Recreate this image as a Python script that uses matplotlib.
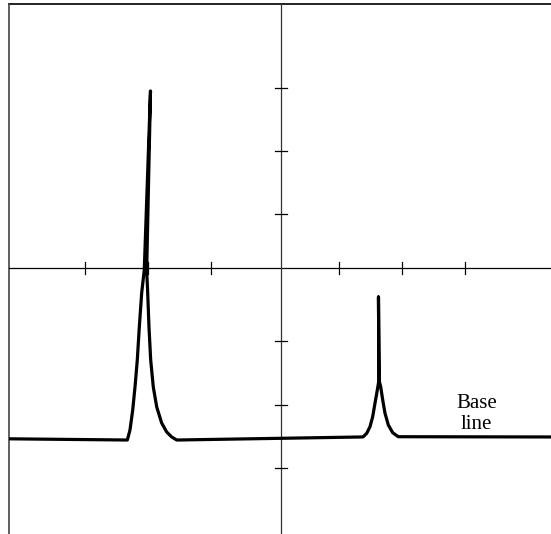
import numpy as np
import matplotlib
matplotlib.use('Agg')
import matplotlib.pyplot as plt

# units: one tick step, origin at the crossing of the two axes
x_ticks = [-3.09, -2.09, -1.10, 0.91, 1.91, 2.90]
y_ticks = [2.83, 1.84, 0.85, -1.15, -2.16, -3.15]

# baseline trace with two peaks
trace_x = [-4.283, -2.420, -2.378, -2.335, -2.299, -2.263, -2.231, -2.194, -2.153, -2.055,
           -2.115, -2.099, -2.079, -2.052, -2.011, -1.957, -1.879, -1.800, -1.721, -1.642,
           1.276, 1.296, 1.350, 1.402, 1.444, 1.480, 1.517, 1.543, 1.535,
           1.543, 1.570, 1.602, 1.638, 1.690, 1.759, 1.847, 4.252]
trace_y = [-2.690, -2.709, -2.551, -2.236, -1.874, -1.449, -0.929, -0.394, -0.031, 2.787,
           -0.031, -0.394, -0.929, -1.449, -1.874, -2.189, -2.441, -2.583, -2.661, -2.709,
           -2.661, -2.657, -2.603, -2.499, -2.342, -2.131, -1.921, -1.764, -0.457,
           -1.764, -1.869, -2.079, -2.288, -2.472, -2.594, -2.657, -2.661]

label_text = 'Base\nline'
label_pos = (3.08, -2.30)

xmin, xmax = -4.425, 4.252
ymin, ymax = -4.189, 4.220
frame_left, frame_top = -4.283, 4.157

fig = plt.figure(figsize=(5.51, 5.34), dpi=100)
ax = fig.add_axes([0, 0, 1, 1])
ax.set_xlim(xmin, xmax)
ax.set_ylim(ymin, ymax)
ax.axis('off')

# open frame: top and left only
ax.plot([frame_left, xmax], [frame_top, frame_top], color='#222222', lw=1.4)
ax.plot([frame_left, frame_left], [ymin, frame_top], color='#444444', lw=1.2)

# axes through the middle
ax.plot([frame_left, xmax], [0, 0], color='black', lw=0.9)
ax.plot([0, 0], [ymin, frame_top], color='#333333', lw=0.9)

tick = 0.095
for t in x_ticks:
    ax.plot([t, t], [-tick, tick], color='black', lw=0.9)
for t in y_ticks:
    ax.plot([-tick, tick], [t, t], color='black', lw=0.9)

ax.plot(trace_x, trace_y, color='black', lw=2.3,
        solid_joinstyle='round', solid_capstyle='butt')

ax.text(label_pos[0], label_pos[1], label_text, ha='center', va='center',
        fontsize=15, family='Liberation Serif', linespacing=1.15)

fig.savefig('out.png', dpi=100)
